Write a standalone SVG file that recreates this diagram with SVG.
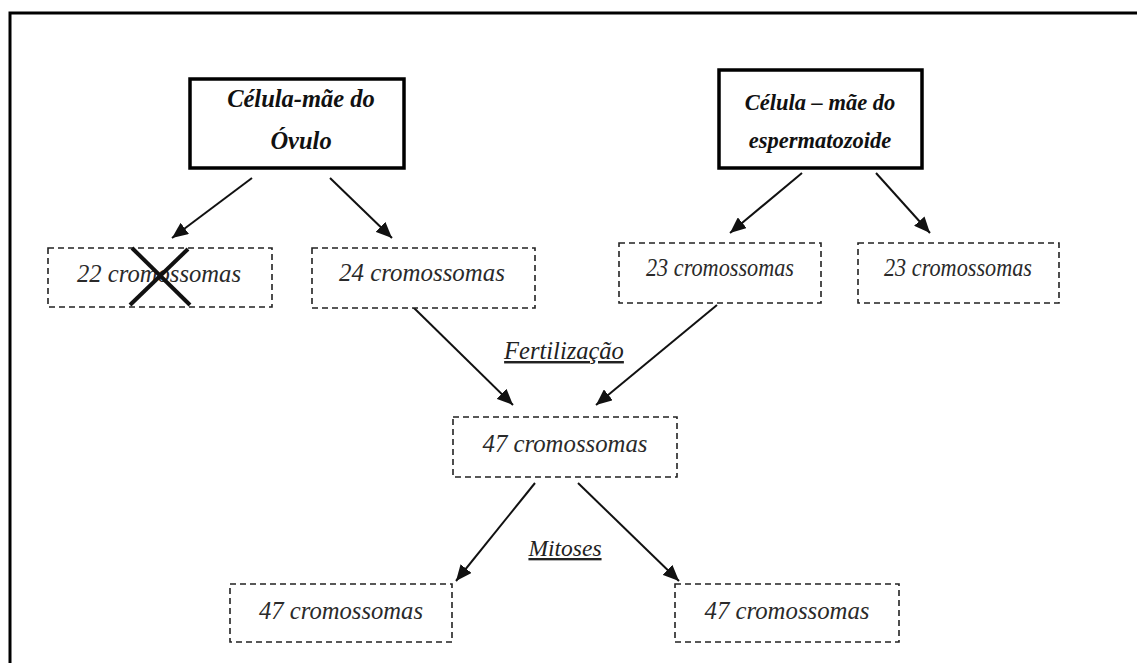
<svg xmlns="http://www.w3.org/2000/svg" width="1137" height="663" viewBox="0 0 1137 663">
<style>
.frame{fill:none;stroke:#000;stroke-width:3}
.main{fill:#fff;stroke:#000;stroke-width:3.5}
.dash{fill:#fff;stroke:#222;stroke-width:1.6;stroke-dasharray:6 4}
.title{font-family:"Liberation Serif",serif;font-style:italic;font-weight:bold;fill:#111;text-anchor:middle}
.lbl{font-family:"Liberation Serif",serif;font-style:italic;fill:#2a2a2a;font-size:24.5px;text-anchor:middle}
.proc{font-family:"Liberation Serif",serif;font-style:italic;fill:#222;text-anchor:middle;text-decoration:underline}
.arr{stroke:#111;stroke-width:2;fill:none;marker-end:url(#ah)}
.x{stroke:#111;stroke-width:4;stroke-linecap:butt}
</style>
<defs>
<marker id="ah" markerUnits="userSpaceOnUse" markerWidth="16" markerHeight="14" refX="16" refY="7" orient="auto">
<path d="M0,0 L16,7 L0,14 Z" fill="#111"/>
</marker>
</defs>
<rect width="1137" height="663" fill="#fff"/>
<path class="frame" d="M10,663 V13 H1137"/>

<g id="connectors">
<line class="arr" x1="252" y1="178" x2="172" y2="238"/>
<line class="arr" x1="330" y1="178" x2="392" y2="238"/>
<line class="arr" x1="802" y1="173" x2="730" y2="233"/>
<line class="arr" x1="876" y1="173" x2="930" y2="233"/>
<line class="arr" x1="413" y1="307" x2="513" y2="405"/>
<line class="arr" x1="717" y1="305" x2="596" y2="405"/>
<line class="arr" x1="535" y1="483" x2="456" y2="581"/>
<line class="arr" x1="578" y1="483" x2="679" y2="581"/>
</g>

<g id="mae-ovulo">
<rect class="main" x="190" y="79" width="214" height="89"/>
<text class="title" x="301" y="107" font-size="24.5">Célula-mãe do</text>
<text class="title" x="301" y="149" font-size="24.5">Óvulo</text>
</g>

<g id="mae-espermatozoide">
<rect class="main" x="719" y="70" width="203" height="98"/>
<text class="title" x="820" y="110" font-size="22.5">Célula – mãe do</text>
<text class="title" x="820" y="148" font-size="22.5">espermatozoide</text>
</g>

<g id="n22">
<rect class="dash" x="48" y="248" width="224" height="59"/>
<text class="lbl" x="159" y="282" textLength="164" lengthAdjust="spacingAndGlyphs">22 cromossomas</text>
<line class="x" x1="132" y1="248" x2="190" y2="305"/>
<line class="x" x1="188" y1="249" x2="130" y2="305"/>
</g>

<g id="n24">
<rect class="dash" x="312" y="248" width="223" height="60"/>
<text class="lbl" x="422" y="281" textLength="166" lengthAdjust="spacingAndGlyphs">24 cromossomas</text>
</g>

<g id="n23a">
<rect class="dash" x="619" y="243" width="202" height="60"/>
<text class="lbl" x="720" y="276" textLength="148" lengthAdjust="spacingAndGlyphs">23 cromossomas</text>
</g>

<g id="n23b">
<rect class="dash" x="858" y="243" width="201" height="60"/>
<text class="lbl" x="958" y="276" textLength="148" lengthAdjust="spacingAndGlyphs">23 cromossomas</text>
</g>

<g id="fertilizacao">
<text class="proc" x="564" y="359" font-size="24.5">Fertilização</text>
</g>

<g id="n47">
<rect class="dash" x="453" y="417" width="224" height="60"/>
<text class="lbl" x="565" y="452" textLength="165" lengthAdjust="spacingAndGlyphs">47 cromossomas</text>
</g>

<g id="mitoses">
<text class="proc" x="565" y="556" font-size="23.5">Mitoses</text>
</g>

<g id="n47a">
<rect class="dash" x="230" y="584" width="222" height="58"/>
<text class="lbl" x="341" y="619" textLength="164" lengthAdjust="spacingAndGlyphs">47 cromossomas</text>
</g>

<g id="n47b">
<rect class="dash" x="675" y="584" width="224" height="58"/>
<text class="lbl" x="787" y="619" textLength="165" lengthAdjust="spacingAndGlyphs">47 cromossomas</text>
</g>
</svg>
